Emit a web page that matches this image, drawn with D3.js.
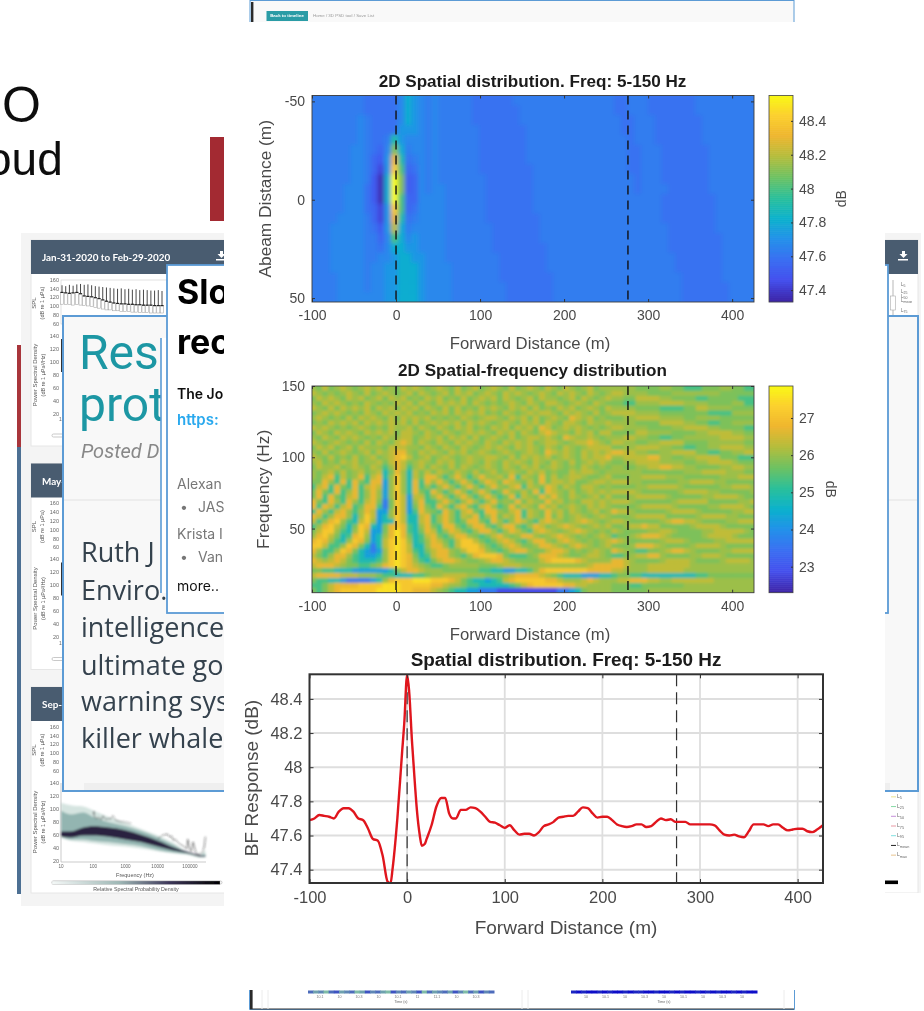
<!DOCTYPE html>
<html><head><meta charset="utf-8">
<script src="https://cdn.jsdelivr.net/npm/d3@7/dist/d3.min.js"></script>
<style>html,body{margin:0;padding:0;background:#fff}svg{display:block}text{font-family:"Liberation Sans",Arial,sans-serif}</style>
</head><body><div id="c"></div>
<script>
// ---------- values ----------
const forwardTicks = [-100,0,100,200,300,400];
const dashMarks = [0,276];
const parulaStops = ["#3e26a8","#4550ee","#3a6ff2","#2391ea","#0cb2cc","#2cc09a","#6ec262","#b5bd3c","#efb62f","#fcd12e","#f9fb15"];

const titles = ["2D Spatial distribution. Freq: 5-150 Hz","2D Spatial-frequency distribution","Spatial distribution. Freq: 5-150 Hz"];

// Plot 1: dB level per cell, rows from abeam -50 to 50 m, 8 m forward columns
const abeamTicks = [-50,0,50];
const bar1Ticks = [47.4,47.6,47.8,48,48.2,48.4];
const levels1 = [47.35,47.42,47.5,47.54,47.585,47.625,47.665,47.72,47.8,47.9,48.0,48.1,48.2,48.3,48.4,48.55];
const rows1 = [
"55555555 444446 8765 6555 5544 4444 5555 5555 5555 5554 4555 4444 4445 5555 5555",
"55555555 444446 8765 6555 5544 4444 4555 5555 5555 5554 4555 4444 4445 5555 5555",
"55555556 544446 8765 6555 5544 4444 4555 5555 5555 5555 4455 5444 4444 5555 5555",
"55555556 544447 7765 6555 5554 4444 4455 5555 5555 5555 4455 5444 4444 5555 5555",
"55555556 544597 6665 6555 5554 4444 4455 5555 5555 5555 5455 5444 4444 5555 5555",
"55555566 5436b8 5665 6555 5554 4444 4455 5555 5555 5555 5445 5544 4444 4555 5555",
"55555566 5327d9 4565 6555 5554 4444 4455 5555 5555 5555 5445 5544 4444 4555 5555",
"55555566 5317ea 3465 6555 5554 4444 4445 5555 5555 5555 5445 5544 4444 4555 5555",
"55555566 5208fb 2365 6555 5555 4444 4445 5555 5555 5555 5545 5544 4444 4555 5555",
"55555666 4208fb 2365 6655 5555 4444 4445 5555 5555 5555 5545 5554 4444 4555 5555",
"55555666 4208fa 3366 6655 5555 4444 4445 5555 5555 5555 5555 5544 4444 4455 5555",
"55555666 4317ea 3466 6655 5555 4444 4445 5555 5555 5555 5555 5544 4444 4455 5555",
"55556666 5317d9 4566 6655 5555 4444 4444 5555 5555 5555 5555 5544 4444 4455 5555",
"55566666 5427c8 5666 6655 5555 5444 4444 5555 5555 5555 5555 5554 4444 4455 5555",
"55566666 5536a8 6766 6655 5555 5444 4444 5555 5555 5555 5555 5554 4444 4445 5555",
"55566666 554688 7766 6655 5555 5444 4444 4555 5555 5555 5555 5554 4444 4445 5555",
"55566666 556678 8776 6655 5555 5544 4444 4555 5555 5555 5555 5555 4444 4445 5555",
"55566666 566778 8876 6665 5555 5544 4444 4555 5555 5555 5555 5555 4444 4445 5555",
"55556666 566778 8876 6665 5555 5544 4444 4455 5555 5555 5555 5555 5444 4445 5555",
"55556666 566778 8876 6665 5555 5554 4444 4455 5555 5555 5555 5555 5444 4444 5555",
"55556666 666778 8876 6665 5555 5554 4444 4455 5555 5555 5555 5555 5444 4444 5555"];

// Plot 2: dB level per cell, rows from 150 Hz down to 5 Hz
const freqTicks = [50,100,150];
const bar2Ticks = [23,24,25,26,27];
const levels2 = [22.8,23.6,24.2,24.8,25.3,25.75,26.0,26.3,26.7,27.1,27.5];
const rows2 = [
"6575676567 6756576765 6765756756 7657567657 6576567566 6666555566 5544455566 5544",
"7656567657 5676567576 5675767567 6576765676 5767657656 7766665555 6666666655 5555",
"5767657675 6757675657 6756575676 7576567576 6567576567 6655777766 5555445555 5444",
"6576765657 6565767576 5767675765 6567657657 7656765765 5544666677 7766665555 6644",
"7657576767 5767576757 6575756576 7657675756 5767567657 6666555544 4455776666 5555",
"5676765657 6576767565 7675767675 6576567677 6576765756 7777666655 5555554444 6666",
"6765657576 7657576767 5656576567 7657675756 7658767565 5566777766 6655666655 5555",
"5657676757 6767675756 7676757676 5676576757 6577657667 6666555577 7766554455 6666",
"7676565676 5657667576 5765767565 7675767587 5676765656 7766665555 6677776655 5544",
"5765767657 6767577657 6576567676 5767576578 7665767577 5555776666 5555667777 6655",
"6576576765 6576677567 6757675756 7657567767 6587667656 6677665544 5566666677 7766",
"7656765657 5765787576 5765767657 6576767567 7656778765 7766556677 7755556666 6655",
"5767567576 6657776657 6576576567 6765767657 6576567777 5566777766 5544556677 7766",
"6575676567 5767886576 7657675676 5676567658 7676576767 8877665566 7777554455 6677",
"7657565756 7567897567 5676567667 7657576767 5676576778 6677778866 5566777755 5444",
"6756576756 6757875676 5767567657 6576765765 7657567676 5566777766 6655667777 6555",
"5766756765 7646874675 7657576567 6576576756 7656576565 6655667788 7766555566 7766",
"6567575675 6735863757 5765765756 7567657675 6557677656 6666655555 5566677776 6655",
"6578475684 7836963758 8646864686 6758476585 7567765567 5556677776 6655555566 6777",
"5586484854 8826963848 6864686468 7587657585 7767556776 7776655555 5667777665 5555",
"4784854847 8726963846 4686468646 8657847658 7576577656 5555667777 7655555566 7776",
"5854846846 8626963854 8646864686 4586575848 7657567676 7777655555 5677776655 5556",
"5848547846 8626972774 6864686468 6458476586 8657656757 5556777776 5555566777 7655",
"8548648647 8515972684 4686468646 8565857658 6756577676 7776555555 6777775555 5667",
"8487478458 8415972585 4864785478 6458576586 7567657676 5555677777 6555556677 7765",
"4864786468 7226972486 5486478548 8657847658 6757656756 8776555556 7777655555 6677",
"8746886369 7236973378 4686476846 8576847658 5756765676 5556777775 5555677776 6555",
"7468964379 6233973378 4686458854 8646875478 7656787656 7765555567 8877655556 6777",
"4689753598 3258984368 5488546885 4688546875 6787656767 5567787755 5556777765 5555",
"5799643697 2258a84358 7468754688 6468754787 6567876565 7655556677 6555566777 7765",
"6897534896 2368a85347 8546886545 7865688656 7876565676 4556788876 5555567777 6555",
"8986436985 2379a96346 8754799754 5787546886 5787656567 8765555567 7765555667 7777",
"9974469853 1379a97336 8864799975 4578755688 7657876567 5556888765 5556777765 5555",
"8644698532 1269a97435 7886579986 5457886557 8875656765 8765445567 8876555566 7777",
"7546886432 2369a98534 7886546899 9854445688 8765567765 4456778865 5556677765 5555",
"8767875433 3469a98643 5788765567 8876555578 9999876666 8876555567 7776555567 7776",
"7888765544 5689a98765 4456666655 5677766666 6666667888 8876667777 7776666666 6666",
"5544333222 2223578876 6655555544 3322334689 9999998888 7766667777 7766666666 6666",
"7888877766 6544333445 6677776665 5567888876 5433322233 4554433333 3333445555 5555",
"5443321111 2368999aaa 9998754332 3478999998 8766678766 6778887766 7777777666 6666",
"4457888899 99aaa99999 8876654433 3334578999 9988776666 5554455555 5566666666 6666",
"5457899999 9aaaa99888 7654332211 1000000000 0112356666 5555556666 6666666666 6666"];

// Plot 3: response line
const bfTicks = [47.4,47.6,47.8,48,48.2,48.4];
const bfLabels = ["47.4","47.6","47.8","48","48.2","48.4"];
const lineX = [-100,-95,-90,-85,-80,-75,-70,-65,-60,-55,-50,-45,-40,-35,-30,-25,-20,-17,-15,-10,-5,-3,0,2,5,8,10,13,15,18,20,25,30,35,39,43,47,50,55,60,65,70,75,80,85,90,95,100,105,110,115,120,125,130,135,140,145,150,155,160,165,170,175,180,185,190,195,200,205,210,215,220,225,230,235,240,245,250,255,260,265,270,275,280,285,290,295,300,305,310,315,320,325,330,335,340,345,350,355,360,365,370,375,380,385,390,395,400,405,410,415,420,426];
const lineY = [47.69,47.70,47.72,47.715,47.71,47.70,47.74,47.76,47.76,47.74,47.70,47.69,47.64,47.58,47.57,47.48,47.33,47.32,47.40,47.7,48.1,48.25,48.54,48.45,48.15,47.9,47.75,47.6,47.54,47.55,47.58,47.66,47.77,47.82,47.82,47.73,47.70,47.70,47.75,47.75,47.765,47.76,47.74,47.71,47.68,47.675,47.66,47.645,47.66,47.63,47.605,47.61,47.61,47.60,47.62,47.655,47.665,47.68,47.705,47.71,47.715,47.715,47.74,47.765,47.76,47.73,47.705,47.71,47.71,47.69,47.665,47.655,47.65,47.655,47.665,47.665,47.65,47.655,47.68,47.70,47.69,47.695,47.68,47.68,47.68,47.665,47.665,47.665,47.665,47.665,47.66,47.63,47.605,47.6,47.605,47.595,47.59,47.625,47.665,47.665,47.665,47.655,47.665,47.665,47.645,47.63,47.635,47.64,47.64,47.625,47.62,47.635,47.66];

// Background: spectral chart cards
const splTicks = [160,140,120,100,80,60];
const psdTicks = [140,120,100,80,60,40,20];
const freqLabels = [10,100,1000,10000,100000];
const cardOffsets = [0,223.5,447];
const cardHeads = ["Jan-31-2020 to Feb-29-2020","May-","Sep-"];
const splDays = [1,2,3,4,5,6,7,8,9,10,11,12,13,14,15,16,17,18,19,20,21,22,23,24,25,26,27,28];
const splTop = [148,146,149,147,150,151,149,150,148,146,145,144,143,142,141,140,141,139,140,138,139,137,138,137,136,136,137,135];
const splMid = [132,131,130,131,132,129,124,123,122,120,118,115,112,110,108,107,106,106,105,105,104,104,103,103,103,102,102,102];
const splLow = [105,104,104,103,104,103,102,101,100,98,96,94,92,92,90,90,88,88,88,87,87,86,86,86,85,85,85,85];
const densF = [10,20,50,100,300,1000,3000,10000,30000,100000,200000,300000];
const densOuterHi = [110,106,104,98,88,79,70,60,49,33,31,38];
const densOuterLo = [56,52,50,48,45,43,40,36,33,30,26,26];
const densMidHi = [98,92,95,88,80,74,67,57,46,33,30,32];
const densMidLo = [58,54,54,52,50,47,44,38,34,31,28,28];
const densDarkHi = [66,66,72,74,72,68,61,52,42,34,30,29];
const densDarkLo = [58,57,60,60,58,54,50,43,37,32,28,28];
const spikeF1 = [100,105,110,120,150,180,200,250,300,350,400,500,600,700,800,1000,1500];
const spikeY1 = [92,97,88,86,87,84,90,84,86,85,90,83,82,81,81,80,78];
const spikeF2 = [10000,13000,16000,20000,23000,27000,30000,35000,40000,50000,60000,70000,80000,85000,100000,110000,125000,150000,180000,250000,280000,300000];
const spikeY2 = [55,59,61,62,58,59,52,54,50,46,44,41,40,54,38,36,50,34,31,34,44,58];
const legendNames = ["5","25","50","75","95","mean","max"];
const legendCols = ["#e9e38f","#86d9a5","#c58fd9","#e89aa5","#80e0e0","#222222","#e8c58f"];
const bottomLeftStrip = [3,5,4,6,3,2,5,4,3,6,5,2,4,3,5,6,2,4,3,5,4,2,6,3,5,4,3,5,2,4,6,3,5,2,4,3];
const bottomRightStrip = [1,0,1,0,0,1,0,1,0,0,1,0,1,1,0,0,1,0,0,1,0,1,0,0,1,0,1,0,1,0,0,1,0,1,0,0];
const bottomLeftTicks = ["10.1","10","10.3","10","10.1","11","11.1","10","10.3"];
const bottomRightTicks = ["10","10.1","10","10.3","10","10.1","10","10.3","10"];

// ---------- drawing ----------
const W=924,H=1011;
const svg=d3.select("#c").append("svg").attr("width",W).attr("height",H).attr("viewBox",`0 0 ${W} ${H}`);
const defs=svg.append("defs");
const mkBlur=(id,s)=>defs.append("filter").attr("id",id).attr("x","-5%").attr("y","-5%").attr("width","110%").attr("height","110%").append("feGaussianBlur").attr("stdDeviation",s);
mkBlur("b3",0.35);mkBlur("b5",0.55);mkBlur("b8",0.8);mkBlur("h1blur",2.0);mkBlur("h2blur",1.5);
const clip=(id,x,y,w,h)=>defs.append("clipPath").attr("id",id).append("rect").attr("x",x).attr("y",y).attr("width",w).attr("height",h);
const parula=d3.scaleLinear().domain(d3.range(parulaStops.length).map(i=>i/(parulaStops.length-1))).range(parulaStops).interpolate(d3.interpolateRgb);

// ---- page background behind the figure
const bg=svg.append("g").attr("filter","url(#b5)");
bg.append("text").attr("x",2).attr("y",122).attr("font-size",50).attr("fill","#111").text("O");
bg.append("text").attr("x",-14).attr("y",175).attr("font-size",46).attr("fill","#111").text("oud");
bg.append("rect").attr("x",210).attr("y",137).attr("width",16).attr("height",84).attr("fill","#a32a30");
bg.append("rect").attr("x",17).attr("y",345).attr("width",5).attr("height",102).attr("fill","#a8343a");
bg.append("rect").attr("x",17).attr("y",447).attr("width",5).attr("height",447).attr("fill","#4d7093");
bg.append("rect").attr("x",21).attr("y",233).attr("width",210).attr("height",673).attr("fill","#f4f4f4");
bg.append("rect").attr("x",880).attr("y",233).attr("width",41).attr("height",673).attr("fill","#f4f4f4");

const xLog=d3.scaleLog().domain([10,100000]).range([61,190]);
const yPsd=d3.scaleLinear().domain([140,20]).range([783,861.7]);
cardOffsets.forEach((off,k)=>{
  const g=bg.append("g");
  const cardBottom=k===2?893:446+off;
  g.append("rect").attr("x",31).attr("y",240+off).attr("width",887).attr("height",cardBottom-240-off).attr("fill","#fff").attr("stroke","#e6e6e6");
  g.append("rect").attr("x",31).attr("y",240+off).attr("width",887).attr("height",34).attr("fill","#4a5c70");
  g.append("text").attr("x",42).attr("y",261+off).attr("font-size",9.9).attr("font-weight",700).attr("fill","#fff").attr("style","font-family:Lato").text(cardHeads[k]);
  if(k===0){[218,900].forEach(x=>{
    g.append("path").attr("d",`M${x+2} ${251}h3v3h2.5l-4 4l-4-4h2.5z M${x-2} ${259}h10v1.6h-10z`).attr("fill","#fff");});}
  const ySpl=d3.scaleLinear().domain([160,60]).range([280+off,324+off]);
  const yP=d3.scaleLinear().domain([140,20]).range([336+off,414+off]);
  const tick=(t,y)=>g.append("text").attr("x",59).attr("y",y+1.8).attr("text-anchor","end").attr("font-size",5.5).attr("fill","#666").text(t);
  splTicks.forEach(t=>tick(t,ySpl(t)));
  psdTicks.forEach(t=>tick(t,yP(t)));
  const rot=(x,y,t,fs)=>g.append("text").attr("transform",`translate(${x},${y}) rotate(-90)`).attr("text-anchor","middle").attr("font-size",fs||6).attr("fill","#555").text(t);
  rot(36,303+off,"SPL");rot(44,303+off,"(dB re 1 µPa)",5.5);
  rot(37,375+off,"Power Spectral Density");rot(45,375+off,"(dB re 1 µPa²/Hz)",5.5);
  g.append("rect").attr("x",52).attr("y",434+off).attr("width",170).attr("height",3).attr("rx",1.5).attr("fill","#fff").attr("stroke","#bbb").attr("stroke-width",.8);
  if(k<2){
    g.append("text").attr("x",59).attr("y",421+off).attr("font-size",5).attr("fill","#666").text("10");
    g.append("line").attr("x1",62).attr("x2",62).attr("y1",339+off).attr("y2",372+off).attr("stroke","#333").attr("stroke-width",2);
  }
  if(k===0){
    g.append("rect").attr("x",61).attr("y",280).attr("width",110).attr("height",44).attr("fill","none").attr("stroke","#ccc").attr("stroke-width",.6);
    const xd=d3.scaleLinear().domain([1,28]).range([62,162]);
    const box=g.append("g");
    splDays.forEach((d,i)=>{
      box.append("line").attr("x1",xd(d)).attr("x2",xd(d)).attr("y1",ySpl(splTop[i])).attr("y2",ySpl(splMid[i])).attr("stroke","#333").attr("stroke-width",.9);
      box.append("rect").attr("x",xd(d)-1.5).attr("y",ySpl(splMid[i])).attr("width",3).attr("height",ySpl(splLow[i])-ySpl(splMid[i])).attr("fill","#fff").attr("stroke","#999").attr("stroke-width",.5);
      box.append("rect").attr("x",xd(d)-1.5).attr("y",ySpl(splMid[i])-.5).attr("width",3).attr("height",1.2).attr("fill","#222");
    });
  }
});
// density chart in the last card
const dens=bg.append("g").attr("filter","url(#b8)");
const areaOf=(hi,lo)=>d3.area().x((d,i)=>xLog(densF[i])).y0((d,i)=>yPsd(lo[i])).y1((d,i)=>yPsd(hi[i])).curve(d3.curveMonotoneX)(densF);
const lineOf=(f,v)=>d3.line().x((d,i)=>xLog(f[i])).y((d,i)=>yPsd(v[i]))(f);
dens.append("path").attr("d",areaOf(densOuterHi,densOuterLo)).attr("fill","#d5e4e0");
dens.append("path").attr("d",areaOf(densMidHi,densMidLo)).attr("fill","#93b5b1");
dens.append("path").attr("d",areaOf(densDarkHi,densDarkLo)).attr("fill","#2a2340");
dens.append("path").attr("d",lineOf(spikeF1,spikeY1)).attr("fill","none").attr("stroke","#333").attr("stroke-width",.6);
dens.append("path").attr("d",lineOf(spikeF2,spikeY2)).attr("fill","none").attr("stroke","#222").attr("stroke-width",.6);
bg.append("line").attr("x1",61).attr("x2",61).attr("y1",783).attr("y2",862).attr("stroke","#aaa").attr("stroke-width",.6);
bg.append("line").attr("x1",61).attr("x2",206).attr("y1",862).attr("y2",862).attr("stroke","#aaa").attr("stroke-width",.6);
freqLabels.forEach(f=>bg.append("text").attr("x",xLog(f)).attr("y",868).attr("text-anchor","middle").attr("font-size",4.6).attr("fill","#666").text(f));
bg.append("text").attr("x",135).attr("y",877).attr("text-anchor","middle").attr("font-size",5.5).attr("fill","#555").text("Frequency (Hz)");
const grad=defs.append("linearGradient").attr("id","gr");
[["0","#f4f8f7"],[".4","#9fb8b6"],[".7","#3c3658"],["1","#000"]].forEach(s=>grad.append("stop").attr("offset",s[0]).attr("stop-color",s[1]));
bg.append("rect").attr("x",52).attr("y",881).attr("width",168).attr("height",3.4).attr("fill","url(#gr)").attr("stroke","#bbb").attr("stroke-width",.3);
bg.append("rect").attr("x",880).attr("y",880.5).attr("width",18).attr("height",3.6).attr("fill","#000");
bg.append("text").attr("x",136).attr("y",891).attr("text-anchor","middle").attr("font-size",5.3).attr("fill","#555").text("Relative Spectral Probability Density");
// legend (right edge)
const legY=d3.scaleBand().domain(legendNames).range([792,860]);
legendNames.forEach((n,i)=>{
  const y=legY(n)+legY.bandwidth()/2;
  bg.append("line").attr("x1",891).attr("x2",896).attr("y1",y).attr("y2",y).attr("stroke",legendCols[i]).attr("stroke-width",1);
  const t=bg.append("text").attr("x",897).attr("y",y+1).attr("font-size",5).attr("fill","#666").text("L");
  t.append("tspan").attr("dy",1.6).attr("font-size",3.8).text(n);
});
// box-plot key (right edge, top)
bg.append("line").attr("x1",893).attr("x2",893).attr("y1",280).attr("y2",316).attr("stroke","#999").attr("stroke-width",.7);
bg.append("rect").attr("x",890.5).attr("y",296).attr("width",5).attr("height",14).attr("fill","#fff").attr("stroke","#aaa").attr("stroke-width",.6);
["5","25","50","mean","75"].forEach((n,i)=>{const t=bg.append("text").attr("x",901).attr("y",[286,293,298,302,312][i]).attr("font-size",4.5).attr("fill","#666").text("L");t.append("tspan").attr("dy",1.2).attr("font-size",3.5).text(n);});

// research note card
const blue="#5b9bd5";
const rc=svg.append("g").attr("filter","url(#b5)");
rc.append("rect").attr("x",63).attr("y",316).attr("width",855).attr("height",475).attr("fill","#f8f8f8").attr("stroke",blue).attr("stroke-width",2);
rc.append("line").attr("x1",64).attr("x2",917).attr("y1",500).attr("y2",500).attr("stroke","#e2e2e2");
rc.append("rect").attr("x",84).attr("y",783).attr("width",806).attr("height",7).attr("fill","#efefef");
rc.selectAll(null).data([["Res",369],["prot",421]]).join("text").attr("x",79).attr("y",d=>d[1]).attr("font-size",48).attr("font-weight",400).attr("fill","#1f97a4").attr("style","font-family:Roboto").text(d=>d[0]);
rc.append("text").attr("x",81).attr("y",458).attr("font-size",20).attr("font-style","italic").attr("fill","#888").attr("style","font-family:Roboto").text("Posted D");
rc.selectAll(null).data([["Ruth J",562],["Enviro.",600],["intelligence",637],["ultimate goa",675],["warning sys",711],["killer whale",748]]).join("text").attr("x",81).attr("y",d=>d[1]).attr("font-size",27).attr("fill","#34424e").attr("style","font-family:'Open Sans'").text(d=>d[0]);
// paper card
const sc=svg.append("g").attr("filter","url(#b3)");
sc.append("rect").attr("x",161).attr("y",338).attr("width",7).attr("height",255).attr("fill","#fff");
sc.append("line").attr("x1",161).attr("x2",161).attr("y1",338).attr("y2",593).attr("stroke",blue).attr("stroke-width",1.6);
sc.append("rect").attr("x",167).attr("y",265).attr("width",721).attr("height",348).attr("fill","#fff").attr("stroke",blue).attr("stroke-width",1.8);
sc.selectAll(null).data([["Slo",304],["rec",354]]).join("text").attr("x",177).attr("y",d=>d[1]).attr("font-size",34).attr("font-weight",700).attr("fill","#000").attr("style","font-family:Inter").text(d=>d[0]);
sc.append("text").attr("x",177).attr("y",399).attr("font-size",14).attr("font-weight",600).attr("fill","#111").attr("style","font-family:Inter").text("The Jo");
sc.append("text").attr("x",177).attr("y",425).attr("font-size",15).attr("font-weight",600).attr("fill","#2aa9ee").attr("style","font-family:Inter").text("https:");
sc.selectAll(null).data([["Alexan",489,177],["•",512,180],["JAS",512,198],["Krista I",539,177],["•",562,180],["Van",562,198]]).join("text").attr("x",d=>d[2]).attr("y",d=>d[1]).attr("font-size",14).attr("fill","#777").attr("style","font-family:Inter").text(d=>d[0]);
sc.append("text").attr("x",177).attr("y",591).attr("font-size",14).attr("fill","#111").attr("style","font-family:Inter").text("more..");

// white sheet holding the figure
svg.append("rect").attr("x",224).attr("y",0).attr("width",661).attr("height",H).attr("fill","#fff");
svg.append("rect").attr("x",885).attr("y",893).attr("width",39).attr("height",118).attr("fill","#fff");

// top and bottom screenshots
const topFrame=svg.append("g").attr("filter","url(#b5)");
topFrame.append("rect").attr("x",250).attr("y",0.5).attr("width",544).attr("height",22).attr("fill","#f9f9f9").attr("stroke",blue);
topFrame.append("rect").attr("x",248).attr("y",22).attr("width",548).attr("height",3).attr("fill","#fff");
topFrame.append("rect").attr("x",251).attr("y",2).attr("width",2.4).attr("height",20).attr("fill","#2a2a2a");
topFrame.append("rect").attr("x",266.5).attr("y",11).attr("width",41.5).attr("height",10).attr("fill","#2b9ca6");
topFrame.append("text").attr("x",287).attr("y",17.3).attr("text-anchor","middle").attr("font-size",4.4).attr("font-weight",700).attr("fill","#fff").text("Back to timeline");
topFrame.append("text").attr("x",313).attr("y",17.3).attr("font-size",4.4).attr("fill","#999").text("Home  /  3D PSD tool  /  Save List");
const botFrame=svg.append("g").attr("filter","url(#b5)");
botFrame.append("rect").attr("x",250).attr("y",989).attr("width",544).attr("height",20.5).attr("fill","#fff");
botFrame.append("path").attr("d","M249.5 990V1009.5H794.5V990").attr("fill","none").attr("stroke",blue);
botFrame.append("line").attr("x1",250).attr("x2",794).attr("y1",1009).attr("y2",1009).attr("stroke","#333");
botFrame.append("rect").attr("x",250).attr("y",990).attr("width",2.6).attr("height",19).attr("fill","#2a2a2a");
[262,268,522,528,784].forEach(x=>botFrame.append("line").attr("x1",x).attr("x2",x).attr("y1",990).attr("y2",1009).attr("stroke","#ececec"));
const stripL=d3.scaleLinear().domain([0,7]).range(["#1d1dd0","#8fd6a0"]);
const stripR=d3.scaleLinear().domain([0,7]).range(["#0a0ac8","#8fd6a0"]);
const band1=d3.scaleBand().domain(d3.range(bottomLeftStrip.length)).range([308,494]);
const band2=d3.scaleBand().domain(d3.range(bottomRightStrip.length)).range([571,757]);
bottomLeftStrip.forEach((v,i)=>botFrame.append("rect").attr("x",band1(i)).attr("y",990.5).attr("width",band1.bandwidth()+.5).attr("height",3).attr("fill",stripL(v)));
bottomRightStrip.forEach((v,i)=>botFrame.append("rect").attr("x",band2(i)).attr("y",990.5).attr("width",band2.bandwidth()+.5).attr("height",3).attr("fill",stripR(v)));
bottomLeftTicks.forEach((t,i)=>botFrame.append("text").attr("x",320+i*19.5).attr("y",998).attr("text-anchor","middle").attr("font-size",3.6).attr("fill","#777").text(t));
bottomRightTicks.forEach((t,i)=>botFrame.append("text").attr("x",586+i*19.5).attr("y",998).attr("text-anchor","middle").attr("font-size",3.6).attr("fill","#777").text(t));
botFrame.append("text").attr("x",401).attr("y",1003).attr("text-anchor","middle").attr("font-size",3.6).attr("fill","#666").text("Time (s)");
botFrame.append("text").attr("x",664).attr("y",1003).attr("text-anchor","middle").attr("font-size",3.6).attr("fill","#666").text("Time (s)");

// ---- figure panels
const fig=svg.append("g").attr("filter","url(#b3)");
const P1={l:312,r:754,t:95.5,b:302};
const P2={l:312,r:754,t:386,b:592.7};
const P3={l:309.5,r:820,t:674.3,b:883};
const ink="#4a4a4a";
const hyph=d=>String(d).replace("\u2212","-");
function styleAxis(g,fs){
  g.selectAll("path.domain").attr("stroke","none");
  g.selectAll(".tick line").attr("stroke","#333").attr("stroke-width",1);
  g.selectAll(".tick text").attr("font-size",fs).attr("fill",ink).attr("font-family","'Liberation Sans',Arial,sans-serif");
}
function heat(P,rows,levels,vmin,vmax,id,barTicks,barFmt,title,xLab,yLab,yScale,yTicks,dbX,dbRot,yLabX,titleY){
  const strs=rows.map(r=>r.replace(/\s+/g,""));
  const x=d3.scaleLinear().domain([-100,426]).range([P.l,P.r]);
  const rowB=d3.scaleBand().domain(d3.range(strs.length)).range([P.t,P.b]);
  const col=d=>parula((d-vmin)/(vmax-vmin));
  clip(id,P.l,P.t,P.r-P.l,P.b-P.t);
  const g=fig.append("g").attr("clip-path",`url(#${id})`);
  const cells=g.append("g").attr("filter",`url(#${id}blur)`);
  cells.append("rect").attr("x",P.l-4).attr("y",P.t-4).attr("width",P.r-P.l+8).attr("height",P.b-P.t+8).attr("fill",col(levels[5]));
  strs.forEach((s,r)=>{
    const cx=d3.scaleLinear().domain([0,s.length]).range([x(-100)-2,x(426)+2]);
    const ry=r===0?rowB(r)-4:rowB(r);
    const rh=rowB.bandwidth()+.4+((r===0||r===strs.length-1)?4:0);
    cells.selectAll(null).data(s.split("")).join("rect")
      .attr("x",(d,i)=>cx(i)).attr("y",ry).attr("width",(d,i)=>cx(i+1)-cx(i)+.4).attr("height",rh)
      .attr("fill",d=>col(levels[parseInt(d,16)]));
  });
  fig.selectAll(null).data(dashMarks).join("line").attr("x1",x).attr("x2",x).attr("y1",P.t).attr("y2",P.b)
    .attr("stroke","#111").attr("stroke-width",1.4).attr("stroke-dasharray","9 6");
  fig.append("rect").attr("x",P.l).attr("y",P.t).attr("width",P.r-P.l).attr("height",P.b-P.t).attr("fill","none").attr("stroke","#3a3a3a").attr("stroke-width",.9);
  const ax=fig.append("g").attr("transform",`translate(0,${P.b})`).call(d3.axisBottom(x).tickValues(forwardTicks).tickSize(-3).tickPadding(8).tickFormat(hyph));styleAxis(ax,14);
  const axT=fig.append("g").attr("transform",`translate(0,${P.t})`).call(d3.axisTop(x).tickValues(forwardTicks).tickSize(-3).tickFormat(""));styleAxis(axT,14);
  const ay=fig.append("g").attr("transform",`translate(${P.l},0)`).call(d3.axisLeft(yScale).tickValues(yTicks).tickSize(-3).tickPadding(7).tickFormat(hyph));styleAxis(ay,14);
  const ayR=fig.append("g").attr("transform",`translate(${P.r},0)`).call(d3.axisRight(yScale).tickValues(yTicks).tickSize(-3).tickFormat(""));styleAxis(ayR,14);
  fig.append("text").attr("x",(P.l+P.r)/2-0.5).attr("y",titleY).attr("text-anchor","middle").attr("font-size",17.1).attr("font-weight",700).attr("fill","#1a1a1a").text(title);
  fig.append("text").attr("x",(P.l+P.r)/2-3).attr("y",P.b+47).attr("text-anchor","middle").attr("font-size",16.7).attr("fill",ink).text(xLab);
  fig.append("text").attr("transform",`translate(${yLabX},${(P.t+P.b)/2+yLab.off}) rotate(-90)`).attr("text-anchor","middle").attr("font-size",17.3).attr("fill",ink).text(yLab.t);
  // colour bar
  const bx=769,bw=24;
  const by=d3.scaleLinear().domain([vmin,vmax]).range([P.b,P.t]);
  const barG=fig.append("g").attr("filter","url(#b5)");
  const steps=d3.range(0,1.0001,1/103);
  barG.selectAll(null).data(steps).join("rect").attr("x",bx).attr("width",bw)
    .attr("y",d=>by(vmin+d*(vmax-vmin))-2.5).attr("height",2.6).attr("fill",d=>parula(d));
  fig.append("rect").attr("x",bx-1).attr("y",P.t-4).attr("width",bw+2).attr("height",4).attr("fill","#fff");
  fig.append("rect").attr("x",bx).attr("y",P.t).attr("width",bw).attr("height",P.b-P.t).attr("fill","none").attr("stroke","#444").attr("stroke-width",.8);
  const aBar=fig.append("g").attr("transform",`translate(${bx+bw},0)`).call(d3.axisRight(by).tickValues(barTicks).tickSize(-2).tickPadding(6).tickFormat(barFmt));styleAxis(aBar,14);
  fig.append("text").attr("transform",`translate(${dbX},${(P.t+P.b)/2}) rotate(${dbRot})`).attr("text-anchor","middle").attr("font-size",14).attr("fill",ink).text("dB");
}
const y1=d3.scaleLinear().domain([-53,52]).range([P1.t,P1.b]);
heat(P1,rows1,levels1,47.33,48.55,"h1",bar1Ticks,d=>String(+d.toFixed(1)),titles[0],"Forward Distance (m)",{t:"Abeam Distance (m)",off:0},y1,abeamTicks,846,-90,271,87);
const y2=d3.scaleLinear().domain([5,150]).range([P2.b,P2.t]);
heat(P2,rows2,levels2,22.3,27.86,"h2",bar2Ticks,d=>String(d),titles[1],"Forward Distance (m)",{t:"Frequency (Hz)",off:0},y2,freqTicks,826,90,269,376);

// line panel
const x3=d3.scaleLinear().domain([-100,426]).range([P3.l,P3.r+3]);
const y3=d3.scaleLinear().domain([47.322,48.544]).range([P3.b,P3.t]);
clip("h3",P3.l,P3.t,P3.r-P3.l+3,P3.b-P3.t);
const f3=fig.append("g");
f3.append("g").selectAll("line").data(forwardTicks.slice(1)).join("line").attr("x1",x3).attr("x2",x3).attr("y1",P3.t).attr("y2",P3.b).attr("stroke","#dedede").attr("stroke-width",1.8);
f3.append("g").selectAll("line").data(bfTicks).join("line").attr("x1",P3.l).attr("x2",P3.r+3).attr("y1",y3).attr("y2",y3).attr("stroke","#dedede").attr("stroke-width",2);
f3.append("g").selectAll("line").data(dashMarks).join("line").attr("x1",x3).attr("x2",x3).attr("y1",P3.t).attr("y2",P3.b).attr("stroke","#333").attr("stroke-width",1.2).attr("stroke-dasharray","12 6");
f3.append("path").attr("clip-path","url(#h3)").attr("d",d3.line().x((d,i)=>x3(lineX[i])).y((d,i)=>y3(lineY[i])).curve(d3.curveMonotoneX)(lineX)).attr("fill","none").attr("stroke","#e0141f").attr("stroke-width",2.4).attr("stroke-linejoin","round");
f3.append("rect").attr("x",P3.l).attr("y",P3.t).attr("width",P3.r-P3.l+3).attr("height",P3.b-P3.t).attr("fill","none").attr("stroke","#333").attr("stroke-width",2);
const a3=f3.append("g").attr("transform",`translate(0,${P3.b})`).call(d3.axisBottom(x3).tickValues(forwardTicks).tickSize(-4).tickPadding(8).tickFormat(hyph));styleAxis(a3,16.5);
const a3t=f3.append("g").attr("transform",`translate(0,${P3.t})`).call(d3.axisTop(x3).tickValues(forwardTicks).tickSize(-4).tickFormat(""));styleAxis(a3t,15);
const a3l=f3.append("g").attr("transform",`translate(${P3.l},0)`).call(d3.axisLeft(y3).tickValues(bfTicks).tickSize(-4).tickPadding(7).tickFormat((d,i)=>bfLabels[i]));styleAxis(a3l,16.5);
const a3r=f3.append("g").attr("transform",`translate(${P3.r+3},0)`).call(d3.axisRight(y3).tickValues(bfTicks).tickSize(-4).tickFormat(""));styleAxis(a3r,15);
f3.append("text").attr("x",566).attr("y",666).attr("text-anchor","middle").attr("font-size",18.9).attr("font-weight",700).attr("fill","#1a1a1a").text(titles[2]);
f3.append("text").attr("x",566).attr("y",934).attr("text-anchor","middle").attr("font-size",19).attr("fill",ink).text("Forward Distance (m)");
f3.append("text").attr("transform",`translate(258,778) rotate(-90)`).attr("text-anchor","middle").attr("font-size",19).attr("fill",ink).text("BF Response (dB)");
</script></body></html>
